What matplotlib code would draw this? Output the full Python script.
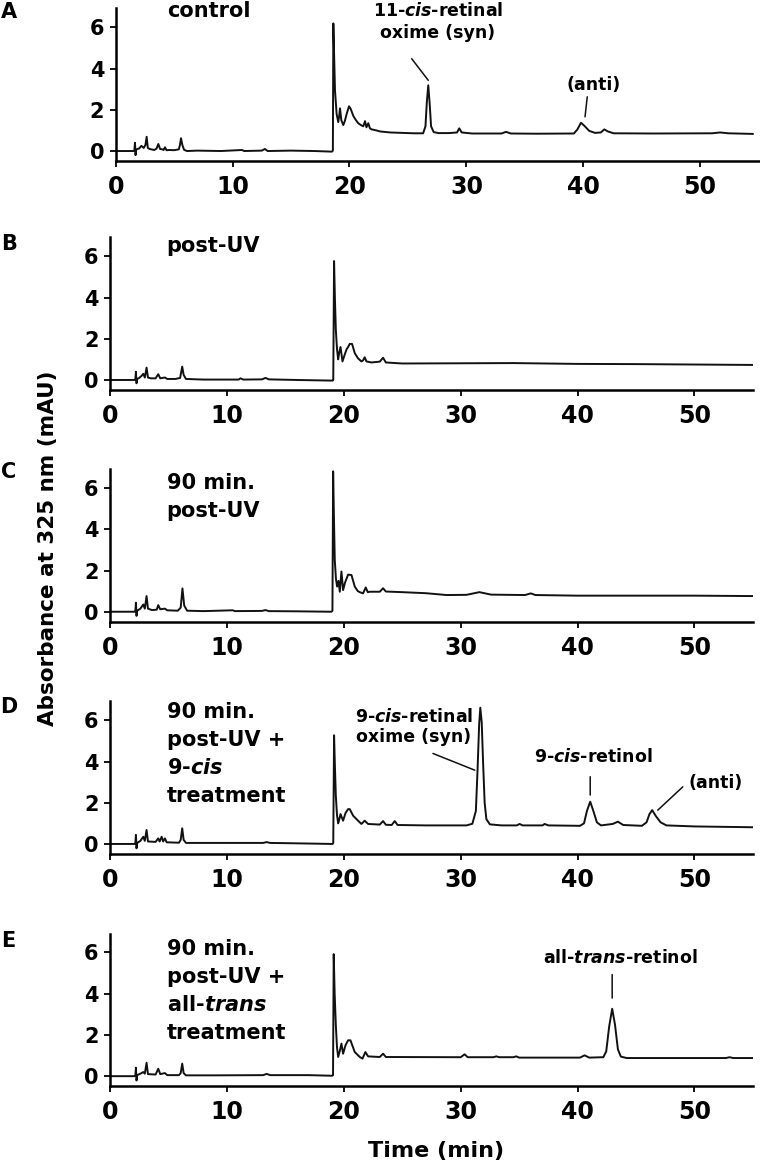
import matplotlib
matplotlib.use("Agg")
import matplotlib.pyplot as plt

plt.rcParams["font.family"] = "DejaVu Sans"
plt.rcParams["font.weight"] = "bold"
plt.rcParams["mathtext.fontset"] = "custom"
plt.rcParams["mathtext.rm"] = "DejaVu Sans:bold"
plt.rcParams["mathtext.it"] = "DejaVu Sans:italic:bold"

# --- data (time in min, absorbance in mAU) ---
t_control = [0, 1.5, 1.6, 1.65, 1.7, 1.75, 1.85, 2.0, 2.2, 2.4, 2.55, 2.65, 2.75, 2.9, 3.3, 3.5,
             3.65, 3.8, 4.0, 4.1, 4.22, 4.35, 4.6, 5.0, 5.4, 5.5, 5.59, 5.7, 5.85, 6.1, 7, 9,
             10.8, 11, 12.5, 12.77, 13.0, 15, 17, 18.5, 18.58, 18.62, 18.68, 18.76, 18.9,
             19.04, 19.12, 19.19, 19.3, 19.47, 19.6, 19.76, 19.96, 20.1, 20.33, 20.55, 20.75,
             21.0, 21.18, 21.33, 21.45, 21.61, 21.75, 21.9, 22.3, 22.61, 23.5, 24.5, 25.5,
             26.3, 26.5, 26.62, 26.74, 26.86, 26.98, 27.2, 27.6, 28.5, 29.2, 29.39, 29.6,
             30.5, 33.0, 33.39, 33.8, 36, 39.2, 39.5, 39.8, 40.1, 40.5, 41.0, 41.5, 41.8,
             42.1, 42.6, 46, 51.0, 51.7, 52.4, 54.5]
a_control = [0.0, 0.0, 0.02, 0.4, -0.2, 0.05, 0.1, 0.12, 0.25, 0.15, 0.3, 0.69, 0.15, 0.1, 0.05,
             0.12, 0.34, 0.1, 0.08, 0.05, 0.18, 0.04, 0.05, 0.04, 0.08, 0.3, 0.62, 0.3, 0.06,
             0.0, 0.02, 0.0, 0.05, 0.0, 0.02, 0.1, 0.0, 0.02, 0.0, -0.03, 0.02, 6.19, 4.8,
             2.95, 1.8, 1.4, 1.7, 2.07, 1.5, 1.26, 1.45, 1.8, 2.17, 2.05, 1.7, 1.5, 1.35,
             1.25, 1.2, 1.45, 1.15, 1.35, 1.1, 1.05, 1.0, 0.95, 0.9, 0.88, 0.86, 0.86, 1.2,
             2.4, 3.19, 2.3, 1.2, 0.92, 0.87, 0.87, 0.9, 1.1, 0.9, 0.85, 0.85, 0.93, 0.85,
             0.84, 0.85, 1.05, 1.37, 1.22, 0.98, 0.88, 0.9, 1.05, 0.95, 0.86, 0.85, 0.86,
             0.9, 0.86, 0.83]

t_post_uv = [0, 2.1, 2.17, 2.22, 2.27, 2.33, 2.5, 2.7, 2.85, 2.98, 3.13, 3.25, 3.5, 3.9, 4.13,
             4.3, 4.7, 4.9, 5.6, 6.0, 6.18, 6.3, 6.5, 8, 11.0, 11.17, 11.4, 13.0, 13.3, 13.6,
             16, 18.0, 19.05, 19.1, 19.17, 19.24, 19.32, 19.42, 19.52, 19.6, 19.72, 19.89,
             20.09, 20.25, 20.37, 20.51, 20.71, 20.94, 21.22, 21.51, 21.65, 21.79, 21.94,
             22.36, 23.08, 23.36, 23.6, 25, 30, 34.5, 40, 45, 50, 55]
a_post_uv = [0, 0.0, 0.02, 0.4, -0.16, 0.05, 0.1, 0.2, 0.3, 0.12, 0.6, 0.12, 0.08, 0.08, 0.28,
             0.08, 0.12, 0.05, 0.05, 0.1, 0.65, 0.25, 0.05, 0.02, 0.02, 0.08, 0.02, 0.03, 0.1,
             0.03, 0.0, -0.02, -0.03, 0.0, 5.77, 4.0, 2.45, 1.5, 1.0, 1.3, 1.6, 0.9, 1.25,
             1.5, 1.6, 1.75, 1.75, 1.3, 1.05, 0.9, 0.95, 1.1, 0.9, 0.85, 0.89, 1.08, 0.85,
             0.8, 0.81, 0.82, 0.78, 0.77, 0.75, 0.73]

t_90min = [0, 2.1, 2.17, 2.22, 2.27, 2.33, 2.6, 2.85, 2.98, 3.13, 3.25, 3.6, 4.0, 4.13, 4.3, 4.7,
           4.9, 5.8, 6.05, 6.2, 6.35, 6.6, 8, 10.5, 10.7, 13.0, 13.3, 13.6, 16, 18.95, 19.03,
           19.09, 19.16, 19.23, 19.33, 19.43, 19.55, 19.66, 19.8, 19.94, 20.1, 20.37, 20.66,
           20.94, 21.2, 21.37, 21.65, 21.88, 22.05, 22.22, 23.08, 23.36, 23.6, 25, 27, 28.8,
           30.5, 31.6, 32.6, 35.5, 36.0, 36.4, 40, 45, 50, 55]
a_90min = [0, 0, 0.02, 0.44, -0.2, 0.05, 0.15, 0.35, 0.15, 0.76, 0.15, 0.08, 0.1, 0.32, 0.12,
           0.15, 0.07, 0.05, 0.2, 1.13, 0.3, 0.05, 0.03, 0.07, 0.03, 0.04, 0.08, 0.03, 0.02,
           0.0, 0.05, 6.81, 4.5, 2.51, 1.6, 1.22, 1.5, 0.97, 1.95, 1.05, 1.4, 1.8, 1.78,
           1.22, 1.0, 0.95, 0.89, 1.18, 0.95, 0.97, 0.97, 1.14, 0.98, 0.95, 0.9, 0.81, 0.82,
           0.95, 0.83, 0.81, 0.89, 0.81, 0.78, 0.78, 0.78, 0.76]

t_9cis = [0, 2.1, 2.17, 2.22, 2.27, 2.33, 2.6, 2.85, 2.98, 3.13, 3.25, 3.9, 4.13, 4.25, 4.42,
          4.55, 4.7, 4.85, 5.9, 6.05, 6.18, 6.3, 6.5, 9, 13.1, 13.4, 13.7, 16, 19.05, 19.1,
          19.17, 19.24, 19.32, 19.42, 19.52, 19.62, 19.72, 19.94, 20.15, 20.37, 20.51, 20.8,
          21.22, 21.51, 21.79, 22.08, 23.08, 23.36, 23.6, 24.1, 24.36, 24.6, 27, 30.5, 31.0,
          31.3, 31.45, 31.58, 31.68, 31.8, 31.92, 32.05, 32.2, 32.5, 33.5, 34.8, 35.04, 35.3,
          37.0, 37.18, 37.5, 40.2, 40.55, 40.8, 41.08, 41.35, 41.65, 42.0, 43.0, 43.45, 43.9,
          45.5, 45.9, 46.15, 46.38, 46.7, 47.1, 47.6, 50, 55]
a_9cis = [0, 0, 0.02, 0.44, -0.21, 0.05, 0.15, 0.35, 0.15, 0.68, 0.12, 0.1, 0.27, 0.12, 0.35,
          0.12, 0.27, 0.08, 0.06, 0.2, 0.76, 0.2, 0.05, 0.05, 0.05, 0.09, 0.05, 0.03, 0.0,
          0.05, 5.27, 3.8, 2.35, 1.4, 1.0, 1.2, 1.45, 1.13, 1.5, 1.69, 1.69, 1.37, 1.13, 0.97,
          1.13, 0.97, 0.94, 1.11, 0.93, 0.92, 1.11, 0.92, 0.9, 0.9, 0.98, 1.6, 3.7, 5.8, 6.61,
          5.9, 3.9, 2.0, 1.2, 0.95, 0.9, 0.9, 0.97, 0.9, 0.9, 0.97, 0.9, 0.88, 1.0, 1.6, 2.05,
          1.6, 1.05, 0.9, 0.97, 1.08, 0.92, 0.88, 1.05, 1.45, 1.64, 1.35, 1.05, 0.9, 0.85, 0.81]

t_alltrans = [0, 2.1, 2.17, 2.22, 2.27, 2.33, 2.6, 2.85, 2.98, 3.13, 3.25, 3.9, 4.13, 4.3, 4.7,
              4.9, 5.9, 6.05, 6.18, 6.3, 6.5, 9, 13.1, 13.4, 13.7, 17, 19.0, 19.08, 19.14,
              19.22, 19.32, 19.42, 19.52, 19.65, 19.8, 19.94, 20.15, 20.37, 20.57, 20.94,
              21.37, 21.6, 21.85, 22.08, 23.08, 23.36, 23.6, 30.0, 30.34, 30.6, 32.8, 33.05,
              33.3, 34.5, 34.76, 35.0, 40.2, 40.6, 41.0, 42.2, 42.45, 42.7, 42.96, 43.2, 43.45,
              43.7, 44.2, 52.7, 53.0, 53.3, 55]
a_alltrans = [0, 0, 0.02, 0.41, -0.21, 0.05, 0.12, 0.2, 0.12, 0.65, 0.1, 0.08, 0.36, 0.1, 0.15,
              0.05, 0.05, 0.15, 0.61, 0.15, 0.04, 0.04, 0.05, 0.11, 0.05, 0.05, 0.02, 0.05,
              5.92, 4.0, 2.48, 1.4, 0.93, 1.2, 1.58, 1.09, 1.5, 1.74, 1.74, 1.17, 0.93, 0.85,
              1.17, 0.96, 0.93, 1.09, 0.93, 0.92, 1.06, 0.92, 0.92, 0.96, 0.92, 0.92, 0.96, 0.9,
              0.9, 1.01, 0.9, 0.92, 1.2, 2.4, 3.27, 2.5, 1.3, 0.95, 0.88, 0.88, 0.92, 0.88, 0.88]

panel_letters = ["A", "B", "C", "D", "E"]
conditions = ["control", "post-UV", "90 min.\npost-UV", "90 min.\npost-UV +\n9-$\\mathit{cis}$\ntreatment",
              "90 min.\npost-UV +\nall-$\\mathit{trans}$\ntreatment"]
traces = [(t_control, a_control), (t_post_uv, a_post_uv), (t_90min, a_90min),
          (t_9cis, a_9cis), (t_alltrans, a_alltrans)]
x_ticks = [0, 10, 20, 30, 40, 50]
y_ticks = [0, 2, 4, 6]

# --- layout (figure fractions) ---
fig = plt.figure(figsize=(7.6, 11.64), dpi=100)
lefts = [0.1522, 0.1447, 0.1447, 0.1447, 0.1447]
bottoms = [0.8614, 0.6647, 0.4656, 0.2661, 0.0666]
width, height = 0.846, 0.1314
letter_y = [0.9897, 0.7904, 0.5941, 0.3922, 0.1912]
cond_pos = [(4.36, 6.77, "center"), (4.85, 6.5, "center"), (4.85, 6.72, "top"),
            (4.85, 6.88, "top"), (4.85, 6.65, "top")]

axes = []
for i, (t, a) in enumerate(traces):
    ax = fig.add_axes([lefts[i], bottoms[i], width, height])
    ax.plot(t, a, color="#111111", lw=1.4)
    ax.set_xlim(0, 55)
    ax.set_ylim(-0.5, 6.92)
    ax.set_xticks(x_ticks)
    ax.set_yticks(y_ticks)
    for s in ["top", "right"]:
        ax.spines[s].set_visible(False)
    for s in ["left", "bottom"]:
        ax.spines[s].set_linewidth(1.8)
    ax.tick_params(axis="x", labelsize=17, length=4, width=1.3, pad=6)
    ax.tick_params(axis="y", labelsize=15, length=4.3, width=1.3, pad=4)
    cx, cy, va = cond_pos[i]
    ax.text(cx, cy, conditions[i], fontsize=15, ha="left", va=va, linespacing=1.5)
    fig.text(0.0115, letter_y[i], panel_letters[i], fontsize=15, ha="center", va="center")
    axes.append(ax)

lead = dict(arrowstyle="-", color="#111111", lw=1.1, shrinkA=0, shrinkB=0)

# A: control
ax = axes[0]
ax.text(27.57, 6.25, "11-$\\mathit{cis}$-retinal\noxime (syn)", fontsize=12.5,
        ha="center", va="center", linespacing=1.25)
ax.annotate("", xy=(26.74, 3.43), xytext=(25.32, 4.48), arrowprops=lead)
ax.text(40.92, 3.19, "(anti)", fontsize=12.5, ha="center", va="center")
ax.annotate("", xy=(40.15, 1.66), xytext=(40.34, 2.63), arrowprops=lead)

# D: 9-cis treatment
ax = axes[3]
ax.text(25.98, 5.68, "9-$\\mathit{cis}$-retinal\noxime (syn)", fontsize=12.5,
        ha="center", va="center", linespacing=1.1)
ax.annotate("", xy=(31.2, 3.58), xytext=(27.63, 4.39), arrowprops=lead)
ax.text(41.3, 4.23, "9-$\\mathit{cis}$-retinol", fontsize=12.5, ha="center", va="center")
ax.annotate("", xy=(41.08, 2.37), xytext=(41.08, 3.26), arrowprops=lead)
ax.text(51.8, 2.94, "(anti)", fontsize=12.5, ha="center", va="center")
ax.annotate("", xy=(46.86, 1.64), xytext=(49.0, 2.77), arrowprops=lead)

# E: all-trans treatment
ax = axes[4]
ax.text(43.63, 5.75, "all-$\\mathit{trans}$-retinol", fontsize=12.5, ha="center", va="center")
ax.annotate("", xy=(42.96, 3.79), xytext=(42.96, 4.93), arrowprops=lead)

fig.text(0.0632, 0.5292, "Absorbance at 325 nm (mAU)", rotation=90, fontsize=15.5,
         ha="center", va="center")
fig.text(0.5737, 0.0112, "Time (min)", fontsize=16, ha="center", va="center")

fig.savefig("out.png", dpi=100)
